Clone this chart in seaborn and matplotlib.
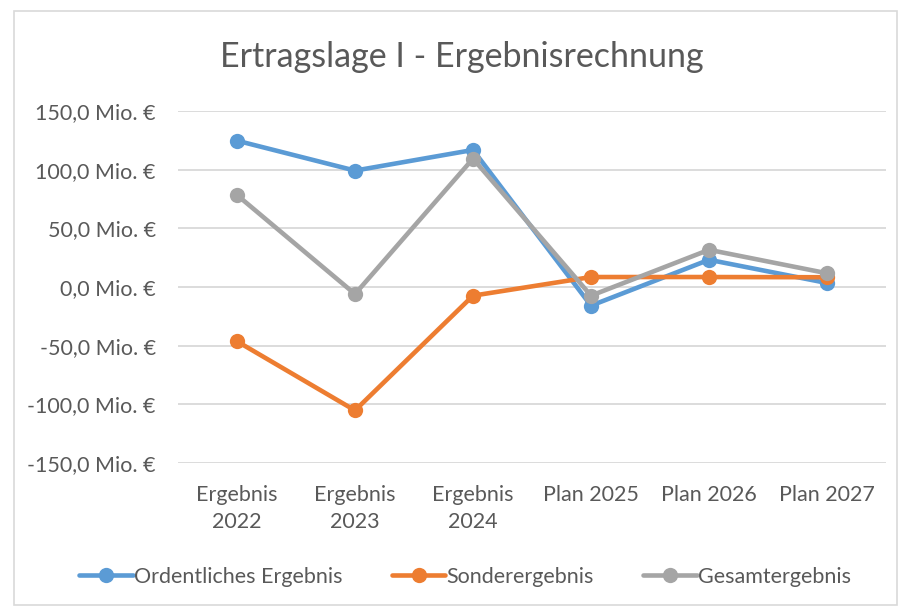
import matplotlib
matplotlib.use("Agg")
import matplotlib.pyplot as plt
import seaborn as sns
import pandas as pd
from matplotlib.patches import Rectangle
from matplotlib.lines import Line2D
from matplotlib.ticker import FuncFormatter

categories = ["Ergebnis\n2022", "Ergebnis\n2023", "Ergebnis\n2024", "Plan 2025", "Plan 2026", "Plan 2027"]
ordentlich = [124.7, 99.2, 116.8, -15.9, 23.2, 3.4]
sonder = [-46.3, -105.2, -7.4, 8.5, 8.5, 8.3]
gesamt = [78.4, -6.0, 109.4, -7.4, 31.7, 11.7]
series_names = ["Ordentliches Ergebnis", "Sonderergebnis", "Gesamtergebnis"]
colors = ["#5B9BD5", "#ED7D31", "#A5A5A5"]

rows = []
for name, vals in zip(series_names, [ordentlich, sonder, gesamt]):
    for c, v in zip(categories, vals):
        rows.append({"Kategorie": c, "Wert": v, "Reihe": name})
df = pd.DataFrame(rows)

sns.set_theme(style="white")
plt.rcParams["font.family"] = ["Lato", "DejaVu Sans"]
txt = "#595959"
fs = 15.5

fig = plt.figure(figsize=(9.05, 6.09), dpi=100)
ax = fig.add_axes([178/905, 1-463/609, (886-178)/905, (463-111)/609])

sns.lineplot(data=df, x="Kategorie", y="Wert", hue="Reihe", hue_order=series_names,
             palette=colors, marker="o", markersize=11, markeredgewidth=0,
             linewidth=3.3, sort=False, ax=ax, legend=False)

ax.set_xlim(-0.5, len(categories) - 0.5)
ax.set_ylim(-150, 150)
ax.set_yticks([-150, -100, -50, 0, 50, 100, 150])
ax.yaxis.set_major_formatter(FuncFormatter(lambda v, p: f"{v:.1f}".replace(".", ",") + " Mio. €"))
ax.grid(axis="y", color="#D9D9D9", linewidth=1.3)
ax.set_axisbelow(True)
for s in ax.spines.values():
    s.set_visible(False)
ax.set_xlabel("")
ax.set_ylabel("")
ax.tick_params(axis="both", length=0, labelsize=fs, colors=txt)
ax.tick_params(axis="y", pad=16)
ax.tick_params(axis="x", pad=16)
for lab in ax.get_xticklabels():
    lab.set_linespacing(1.45)

fig.text(462/905, 1-57/609, "Ertragslage I - Ergebnisrechnung", ha="center", va="center",
         fontsize=24.5, color=txt)

handles = [Line2D([0], [0], color=c, linewidth=3.3, marker="o", markersize=11, markeredgewidth=0) for c in colors]
fig.legend(handles, series_names, loc="center", bbox_to_anchor=(465/905, 1-577/609), ncol=3,
           frameon=False, fontsize=fs, labelcolor=txt, handlelength=2.5, handletextpad=0.05,
           columnspacing=2.3)

fig.patches.append(Rectangle((14/905, 1-605/609), (897-14)/905, (605-11)/609, transform=fig.transFigure,
                             fill=False, edgecolor="#D9D9D9", linewidth=1.2))

fig.savefig("out.png", dpi=100)
